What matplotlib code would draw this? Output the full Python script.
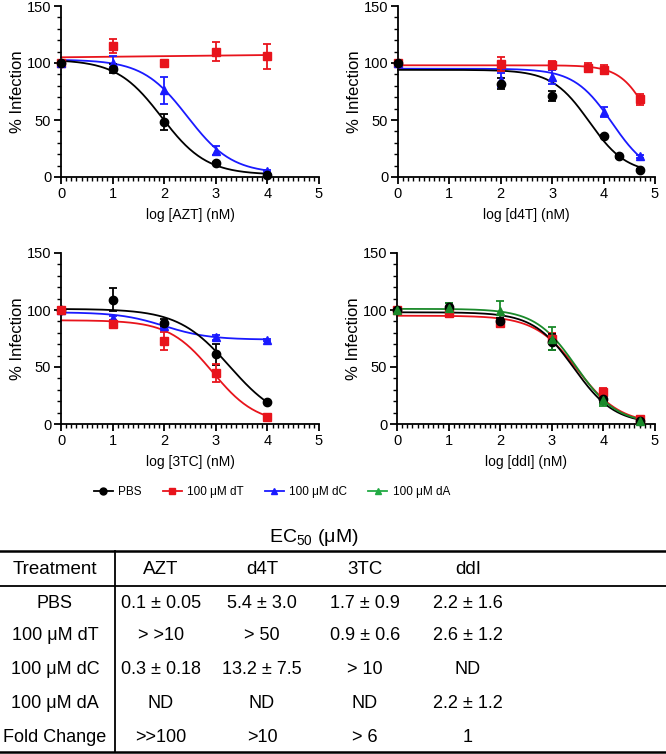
import numpy as np
import matplotlib.pyplot as plt
from matplotlib.ticker import MultipleLocator

plt.rcParams["font.family"] = ["Liberation Sans", "DejaVu Sans"]
plt.rcParams["mathtext.fontset"] = "custom"
plt.rcParams["mathtext.rm"] = "Liberation Sans"

BLACK, RED, BLUE, GREEN = "#000000", "#e8141c", "#1a1aff", "#1a8a2a"

# ---- AZT ----
azt_x = [0, 1, 2, 3, 4]
azt_pbs, azt_pbs_err = [100, 95, 48, 12, 2], [0, 4, 7, 1, 1]
azt_dt, azt_dt_err = [100, 115, 100, 110, 106], [0, 6, 2, 8, 11]
azt_dc, azt_dc_err = [100, 100, 76, 23, 5], [0, 6, 12, 4, 1]

# ---- d4T ----
d4t_pbs_x, d4t_pbs, d4t_pbs_err = [0, 2, 3, 4, 4.3, 4.7], [100, 82, 71, 36, 18, 6], [0, 5, 4, 1, 1, 1]
d4t_dt_x, d4t_dt, d4t_dt_err = [0, 2, 3, 3.7, 4, 4.7], [100, 99, 98, 96, 94, 68], [0, 6, 4, 4, 4, 5]
d4t_dc_x, d4t_dc, d4t_dc_err = [0, 2, 3, 4, 4.7], [100, 85, 88, 57, 18], [0, 6, 6, 4, 1]

# ---- 3TC ----
tc_x = [0, 1, 2, 3, 4]
tc_pbs, tc_pbs_err = [100, 109, 89, 61, 19], [0, 10, 3, 9, 1]
tc_dt, tc_dt_err = [100, 88, 73, 45, 6], [0, 3, 8, 8, 1]
tc_dc, tc_dc_err = [100, 93, 86, 76, 74], [0, 2, 2, 2, 1]

# ---- ddI ----
ddi_x = [0, 1, 2, 3, 4, 4.7]
ddi_pbs, ddi_pbs_err = [100, 103, 90, 72, 22, 3], [0, 3, 3, 7, 4, 1]
ddi_dt, ddi_dt_err = [100, 97, 89, 75, 28, 4], [0, 3, 4, 5, 4, 1]
ddi_da, ddi_da_err = [100, 102, 99, 75, 21, 3], [0, 4, 9, 10, 5, 1]

# fitted curve parameters: (top, bottom, logEC50, hill)
fits = {
    "azt_pbs": (103, 2, 1.95, 1.0),
    "azt_dc": (103, 3, 2.45, 1.0),
    "d4t_pbs": (94, 3, 3.72, 1.2),
    "d4t_dt": (98, 0, 4.94, 1.5),
    "d4t_dc": (95, 0, 4.165, 1.18),
    "tc_pbs": (101, 0, 3.27, 0.87),
    "tc_dt": (91, 0, 2.94, 1.02),
    "tc_dc": (98, 74, 2.0, 1.0),
    "ddi_pbs": (98, 0, 3.43, 1.1),
    "ddi_dt": (95, 0, 3.50, 1.05),
    "ddi_da": (101, 0, 3.47, 1.1),
}
azt_dt_line = (105, 0.5)  # intercept, slope

# EC50 table
col_labels = ["Treatment", "AZT", "d4T", "3TC", "ddI"]
row_labels = ["PBS", "100 μM dT", "100 μM dC", "100 μM dA", "Fold Change"]
cells = [
    ["0.1 ± 0.05", "5.4 ± 3.0", "1.7 ± 0.9", "2.2 ± 1.6"],
    ["> >10", "> 50", "0.9 ± 0.6", "2.6 ± 1.2"],
    ["0.3 ± 0.18", "13.2 ± 7.5", "> 10", "ND"],
    ["ND", "ND", "ND", "2.2 ± 1.2"],
    [">>100", ">10", "> 6", "1"],
]


def logistic(x, p):
    top, bottom, c, h = p
    return bottom + (top - bottom) / (1 + 10 ** (h * (x - c)))


def series(ax, x, y, err, color, marker, fit=None, line=None):
    x = np.asarray(x, float)
    xs = np.linspace(0, x.max(), 200)
    if fit is not None:
        ax.plot(xs, logistic(xs, fit), color=color, lw=1.3, clip_on=False)
    if line is not None:
        ax.plot(xs, line[0] + line[1] * xs, color=color, lw=1.3, clip_on=False)
    ax.errorbar(x, y, yerr=err, fmt=marker, color=color, ms=6, capsize=3,
                elinewidth=1.3, capthick=1.3, clip_on=False, zorder=3)


def style(ax, xlabel):
    ax.set_xlim(0, 5)
    ax.set_ylim(0, 150)
    ax.xaxis.set_major_locator(MultipleLocator(1))
    ax.xaxis.set_minor_locator(MultipleLocator(0.1))
    ax.yaxis.set_major_locator(MultipleLocator(50))
    ax.yaxis.set_minor_locator(MultipleLocator(10))
    for s in ["top", "right"]:
        ax.spines[s].set_visible(False)
    for s in ["left", "bottom"]:
        ax.spines[s].set_linewidth(1.3)
    ax.tick_params(which="major", length=5, width=1.3, labelsize=10.5, pad=2)
    ax.tick_params(which="minor", length=3, width=1.0)
    ax.set_ylabel("% Infection", fontsize=12, labelpad=1)
    ax.set_xlabel(xlabel, fontsize=10, labelpad=5)


fig = plt.figure(figsize=(6.66, 7.54), dpi=100)
W, H = 666, 754


def add_ax(x0, x1, y0, y1):
    return fig.add_axes([x0 / W, 1 - y1 / H, (x1 - x0) / W, (y1 - y0) / H])


ax1 = add_ax(61, 319, 6, 177)
ax2 = add_ax(398, 655, 6, 177)
ax3 = add_ax(61, 319, 253, 424)
ax4 = add_ax(397, 655, 253, 424)

series(ax1, azt_x, azt_dt, azt_dt_err, RED, "s", line=azt_dt_line)
series(ax1, azt_x, azt_dc, azt_dc_err, BLUE, "^", fit=fits["azt_dc"])
series(ax1, azt_x, azt_pbs, azt_pbs_err, BLACK, "o", fit=fits["azt_pbs"])
style(ax1, "log [AZT] (nM)")

series(ax2, d4t_dt_x, d4t_dt, d4t_dt_err, RED, "s", fit=fits["d4t_dt"])
series(ax2, d4t_dc_x, d4t_dc, d4t_dc_err, BLUE, "^", fit=fits["d4t_dc"])
series(ax2, d4t_pbs_x, d4t_pbs, d4t_pbs_err, BLACK, "o", fit=fits["d4t_pbs"])
style(ax2, "log [d4T] (nM)")

series(ax3, tc_x, tc_dc, tc_dc_err, BLUE, "^", fit=fits["tc_dc"])
series(ax3, tc_x, tc_pbs, tc_pbs_err, BLACK, "o", fit=fits["tc_pbs"])
series(ax3, tc_x, tc_dt, tc_dt_err, RED, "s", fit=fits["tc_dt"])
style(ax3, "log [3TC] (nM)")

series(ax4, ddi_x, ddi_dt, ddi_dt_err, RED, "s", fit=fits["ddi_dt"])
series(ax4, ddi_x, ddi_pbs, ddi_pbs_err, BLACK, "o", fit=fits["ddi_pbs"])
series(ax4, ddi_x, ddi_da, ddi_da_err, GREEN, "^", fit=fits["ddi_da"])
style(ax4, "log [ddI] (nM)")

# legend
handles = [plt.Line2D([], [], color=c, marker=m, ms=5, lw=1.3)
           for c, m in [(BLACK, "o"), (RED, "s"), (BLUE, "^"), ("#22aa44", "^")]]
fig.legend(handles, ["PBS", "100 μM dT", "100 μM dC", "100 μM dA"],
           loc="center", bbox_to_anchor=(272 / W, 1 - 492 / H), ncol=4,
           frameon=False, fontsize=8.5, handlelength=1.6, columnspacing=1.75,
           handletextpad=0.5)

# table
tab = fig.add_axes([0, 0, 1, 1])
tab.set_xlim(0, W)
tab.set_ylim(H, 0)
tab.axis("off")
tab.text(314, 538, r"EC$_{50}$ (μM)", ha="center", va="center", fontsize=14)
tab.plot([0, W], [551, 551], color="black", lw=1.8)
tab.plot([0, W], [586, 586], color="black", lw=1.3)
tab.plot([0, W], [752, 752], color="black", lw=1.8)
tab.plot([115, 115], [551, 752], color="black", lw=1.3)
col_x = [55, 161, 262, 365, 468]
for cx, lab in zip(col_x, col_labels):
    tab.text(cx, 570, lab, ha="center", va="center", fontsize=13.5)
row_y = [603, 636, 670, 703, 737]
for ry, lab, vals in zip(row_y, row_labels, cells):
    tab.text(col_x[0], ry, lab, ha="center", va="center", fontsize=13)
    for cx, v in zip(col_x[1:], vals):
        tab.text(cx, ry, v, ha="center", va="center", fontsize=13)

fig.savefig("out.png", dpi=100)
